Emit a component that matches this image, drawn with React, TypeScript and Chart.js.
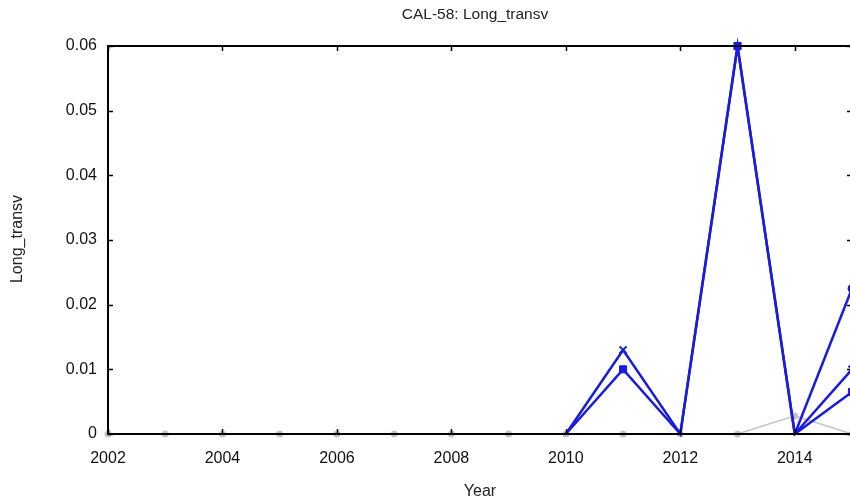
import React, { useEffect, useRef } from "react";
import { Chart, registerables } from "chart.js";

Chart.register(...registerables);

const years = [2002, 2003, 2004, 2005, 2006, 2007, 2008, 2009, 2010, 2011, 2012, 2013, 2014, 2015];
const seriesSquare = [null, null, null, null, null, null, null, null, 0, 0.010, 0, 0.060, 0, 0.0065];
const seriesCross = [null, null, null, null, null, null, null, null, 0, 0.013, 0, 0.060, 0, 0.010];
const seriesCircle = [null, null, null, null, null, null, null, null, null, null, null, null, 0, 0.0225];
const seriesGray = [0, 0, 0, 0, 0, 0, 0, 0, 0, 0, 0, 0, 0.0028, 0];
const xTickValues = [2002, 2004, 2006, 2008, 2010, 2012, 2014];
const yTickValues = [0, 0.01, 0.02, 0.03, 0.04, 0.05, 0.06];
const titleText = "CAL-58: Long_transv";
const xTitle = "Year";
const yTitle = "Long_transv";

const FONT = "'Liberation Sans', Arial, sans-serif";
const BLUE = "#1a1ae0";

function toPoints(vals: (number | null)[]) {
  return years.map((yr, i) => ({ x: yr, y: vals[i] }));
}

const framePlugin = {
  id: "frame",
  afterDatasetsDraw(chart: any) {
    const { ctx, chartArea } = chart;
    const { left, right, top, bottom } = chartArea;
    const xs = chart.scales.x;
    const ys = chart.scales.y;
    ctx.save();
    ctx.strokeStyle = "#000";
    ctx.lineWidth = 1.5;
    ctx.beginPath();
    xTickValues.forEach((v) => {
      const px = Math.round(xs.getPixelForValue(v)) + 0.5;
      ctx.moveTo(px, bottom);
      ctx.lineTo(px, bottom - 5);
      ctx.moveTo(px, top);
      ctx.lineTo(px, top + 5);
    });
    yTickValues.forEach((v) => {
      const py = Math.round(ys.getPixelForValue(v)) + 0.5;
      ctx.moveTo(left, py);
      ctx.lineTo(left + 5, py);
      ctx.moveTo(right, py);
      ctx.lineTo(right - 5, py);
    });
    ctx.stroke();
    ctx.lineWidth = 2;
    ctx.strokeRect(left, top, right - left, bottom - top);
    ctx.restore();
  },
  afterDraw(chart: any) {
    const { ctx } = chart;
    ctx.save();
    ctx.fillStyle = "#222";
    ctx.textAlign = "center";
    ctx.textBaseline = "middle";
    ctx.font = `15.5px ${FONT}`;
    ctx.fillText(titleText, 475, 15);
    ctx.font = `16px ${FONT}`;
    ctx.fillText(xTitle, 480, 492);
    ctx.translate(18, 239);
    ctx.rotate(-Math.PI / 2);
    ctx.fillText(yTitle, 0, 0);
    ctx.restore();
  },
};

const bgPlugin = {
  id: "bg",
  beforeDraw(chart: any) {
    const { ctx, width, height } = chart;
    ctx.save();
    ctx.fillStyle = "#fff";
    ctx.fillRect(0, 0, width, height);
    ctx.restore();
  },
};

export default function App() {
  const ref = useRef<HTMLCanvasElement | null>(null);
  useEffect(() => {
    if (!ref.current) return;
    const blueRadius = (r: number) => (c: any) => (c.raw && c.raw.y === 0 ? 0 : r);
    const chart = new Chart(ref.current, {
      type: "line",
      data: {
        datasets: [
          {
            data: toPoints(seriesSquare),
            borderColor: BLUE,
            backgroundColor: BLUE,
            borderWidth: 2.5,
            pointStyle: "rect",
            pointRadius: blueRadius(5),
            pointBorderWidth: 1,
            clip: false,
          },
          {
            data: toPoints(seriesCross),
            borderColor: BLUE,
            backgroundColor: BLUE,
            borderWidth: 2.5,
            pointStyle: "crossRot",
            pointRadius: blueRadius(5),
            pointBorderWidth: 2,
            clip: false,
          },
          {
            data: toPoints(seriesCircle),
            borderColor: BLUE,
            backgroundColor: BLUE,
            borderWidth: 2.5,
            pointStyle: "circle",
            pointRadius: blueRadius(4),
            pointBorderWidth: 1,
            clip: false,
          },
          {
            data: toPoints(seriesGray),
            borderColor: "#c4c4c4",
            backgroundColor: "#c4c4c4",
            borderWidth: 1.5,
            pointStyle: "circle",
            pointRadius: 3.5,
            pointBorderWidth: 0,
            clip: false,
          },
        ] as any,
      },
      options: {
        animation: false,
        responsive: false,
        events: [],
        layout: { padding: { top: 46, right: 8, left: 0, bottom: 0 } },
        plugins: { legend: { display: false }, tooltip: { enabled: false }, title: { display: false } },
        scales: {
          x: {
            type: "linear",
            min: 2002,
            max: 2015,
            grid: { display: false },
            border: { display: false },
            afterBuildTicks: (s: any) => {
              s.ticks = xTickValues.map((v) => ({ value: v }));
            },
            afterFit: (s: any) => {
              s.height = 69;
            },
            ticks: {
              color: "#111",
              font: { family: FONT, size: 16 },
              padding: 7,
              maxRotation: 0,
              autoSkip: false,
              callback: (v: any) => String(v),
            },
          },
          y: {
            type: "linear",
            min: 0,
            max: 0.06,
            grid: { display: false },
            border: { display: false },
            afterBuildTicks: (s: any) => {
              s.ticks = yTickValues.map((v) => ({ value: v }));
            },
            afterFit: (s: any) => {
              s.width = 108;
            },
            ticks: {
              color: "#111",
              font: { family: FONT, size: 16 },
              padding: 3,
              autoSkip: false,
              callback: (v: any) => String(Math.round(v * 100) / 100),
            },
          },
        },
      },
      plugins: [bgPlugin, framePlugin],
    });
    return () => chart.destroy();
  }, []);
  return (
    <div style={{ position: "absolute", left: 0, top: 0, width: 850, height: 503, overflow: "hidden", background: "#fff" }}>
      <canvas ref={ref} width={860} height={503} style={{ display: "block" }} />
    </div>
  );
}
